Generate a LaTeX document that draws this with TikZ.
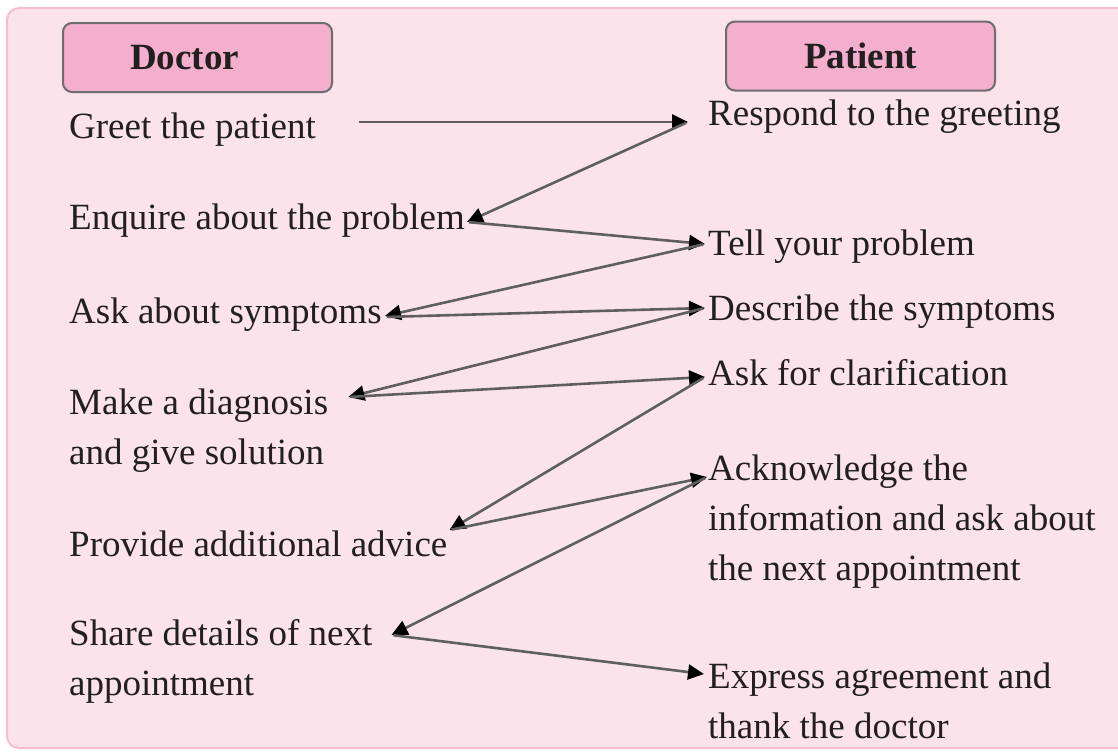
\documentclass[tikz,border=0pt]{standalone}
\usepackage{fontspec}
\setmainfont{Liberation Serif}
\usetikzlibrary{arrows.meta}
\definecolor{bgpink}{HTML}{FBE3EC}
\definecolor{edgepink}{HTML}{F5BCD4}
\definecolor{headpink}{HTML}{F4AECE}
\definecolor{headedge}{HTML}{6D6D6D}
\definecolor{linkgray}{HTML}{5F5F5F}
\definecolor{ink}{HTML}{231F20}

\begin{document}
\begin{tikzpicture}[x=1pt, y=-1pt,
  txt/.style={anchor=base west, inner sep=0pt, align=left, text=ink, font=\fontsize{37}{50}\selectfont},
  head/.style={draw=headedge, fill=headpink, line width=2pt, rounded corners=9pt, minimum width=269pt, minimum height=69pt, inner sep=0pt, text=ink, font=\fontsize{37}{44}\selectfont\bfseries},
  link/.style={draw=linkgray, line width=2.6pt, shorten <=2pt, -{Triangle[length=16pt, width=15pt, color=black]}}]
\useasboundingbox (0,0) rectangle (1118,755);
\clip (0,0) rectangle (1118,755);
\draw [fill=bgpink, draw=edgepink, line width=2pt, rounded corners=12pt] (7,8) rectangle (1170,748);

\node [head] (doctor) at (197.5,57.5) {Doctor\hspace*{26pt}};
\node [head] (patient) at (860.5,56) {Patient};

% left column: multi-line nodes sit on the baseline of their last line
\node [txt] (greet) at (69,138) {Greet the patient};
\node [txt] (enquire) at (69,229) {Enquire about the problem};
\node [txt] (asksym) at (69,323) {Ask about symptoms};
\node [txt] (diag) at (69,464) {Make a diagnosis\\and give solution};
\node [txt] (advice) at (69,556) {Provide additional advice};
\node [txt] (share) at (69,695) {Share details of next\\appointment};

% right column
\node [txt] (respond) at (708,125) {Respond to the greeting};
\node [txt] (tell) at (708,255) {Tell your problem};
\node [txt] (describe) at (708,320) {Describe the symptoms};
\node [txt] (clarify) at (708,385) {Ask for clarification};
\node [txt] (ack) at (708,580) {Acknowledge the\\information and ask about\\the next appointment};
\node [txt] (agree) at (708,738) {Express agreement and\\thank the doctor};

\draw [link] ([xshift=41pt,yshift=16pt]greet.base east) -- ([xshift=-20pt,yshift=3pt]respond.base west);
\draw [link] ([xshift=-20pt,yshift=3pt]respond.base west) -- ([xshift=2pt,yshift=7pt]enquire.base east);
\draw [link] ([xshift=2pt,yshift=7pt]enquire.base east) -- ([xshift=-3pt,yshift=11pt]tell.base west);
\draw [link] ([xshift=-3pt,yshift=11pt]tell.base west) -- ([xshift=3pt,yshift=7pt]asksym.base east);
\draw [link] ([xshift=3pt,yshift=6pt]asksym.base east) -- ([xshift=-3pt,yshift=12pt]describe.base west);
\draw [link] ([xshift=-3pt,yshift=12pt]describe.base west) -- ([xshift=20pt,yshift=67pt]diag.base east);
\draw [link] ([xshift=20pt,yshift=67pt]diag.base east) -- ([xshift=-3pt,yshift=8pt]clarify.base west);
\draw [link] ([xshift=-3pt,yshift=8pt]clarify.base west) -- ([xshift=2pt,yshift=26pt]advice.base east);
\draw [link] ([xshift=2pt,yshift=26pt]advice.base east) -- ([xshift=-1pt,yshift=103pt]ack.base west);
\draw [link] ([xshift=-1pt,yshift=103pt]ack.base west) -- ([xshift=19pt,yshift=60pt]share.base east);
\draw [link] ([xshift=19pt,yshift=60pt]share.base east) -- ([xshift=-4pt,yshift=64pt]agree.base west);
\end{tikzpicture}
\end{document}
